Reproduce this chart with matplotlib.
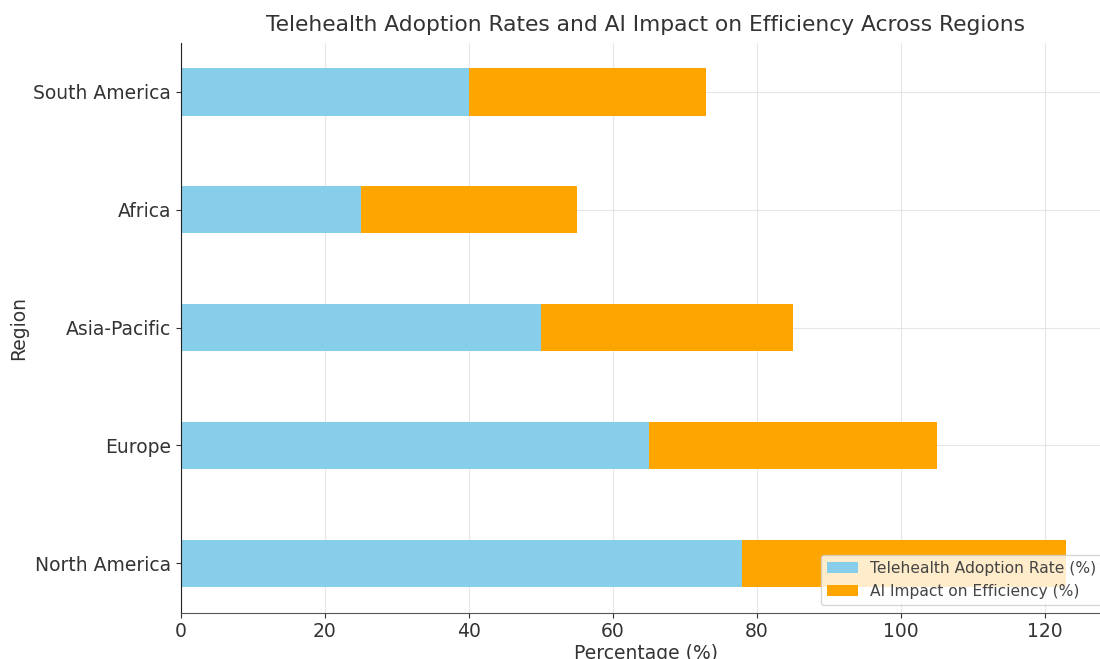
import matplotlib.pyplot as plt

regions = ['North America', 'Europe', 'Asia-Pacific', 'Africa', 'South America']
adoption = [78, 65, 50, 25, 40]
ai_impact = [45, 40, 35, 30, 33]

fig = plt.figure(figsize=(11, 6.59), dpi=100)
ax = fig.add_axes([0.1645, 0.0705, 0.845, 0.865])

ax.barh(regions, adoption, height=0.4, color='skyblue', label='Telehealth Adoption Rate (%)')
ax.barh(regions, ai_impact, height=0.4, left=adoption, color='orange', label='AI Impact on Efficiency (%)')

ax.set_title('Telehealth Adoption Rates and AI Impact on Efficiency Across Regions',
             fontsize=15.7, color='#333333', pad=8)
ax.set_xlabel('Percentage (%)', fontsize=13.5, color='#333333', labelpad=2)
ax.set_ylabel('Region', fontsize=13.5, color='#333333')
ax.tick_params(labelsize=13.5, colors='#333333')
ax.grid(True, color='#e6e6e6', linewidth=0.8)
ax.set_axisbelow(True)
ax.spines['top'].set_visible(False)
ax.spines['right'].set_visible(False)
ax.spines['bottom'].set_color('#555555')
ax.spines['left'].set_color('#222222')
leg = ax.legend(loc='lower right', fontsize=11.2)
for t in leg.get_texts():
    t.set_color('#444444')

plt.savefig('out.png')
